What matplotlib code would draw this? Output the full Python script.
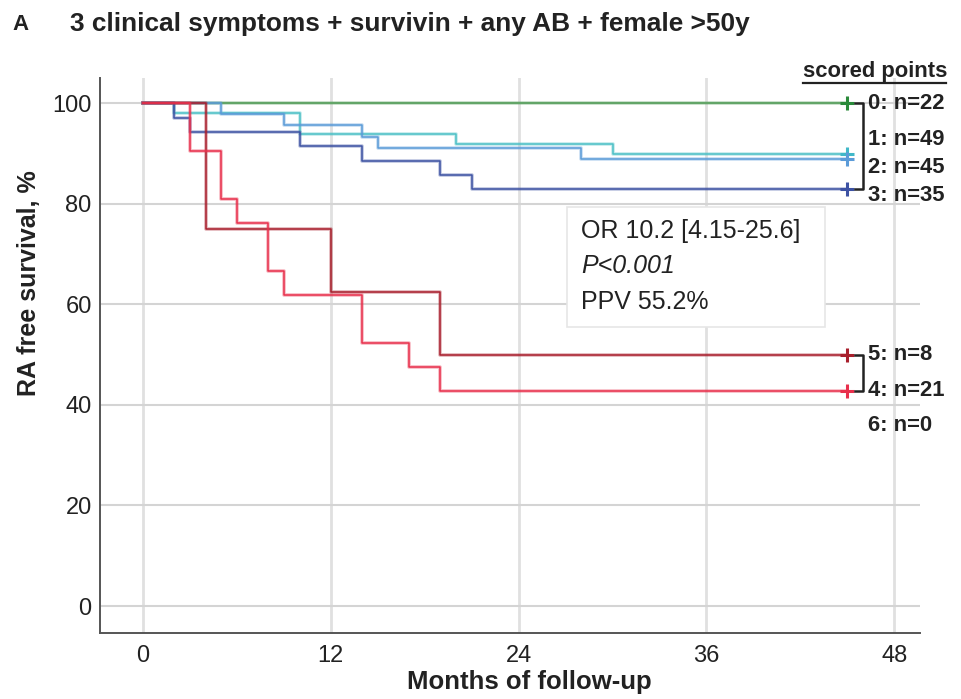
import matplotlib.pyplot as plt
from matplotlib.lines import Line2D
from matplotlib.patches import Rectangle

plt.rcParams['font.family'] = ['Liberation Sans', 'DejaVu Sans']

# Kaplan-Meier steps per score group (event months, survival %)
groups = ['0', '1', '2', '3', '5', '4']
n_pat = [22, 49, 45, 35, 8, 21]
times = [
    [0],
    [0, 2, 10, 20, 30],
    [0, 5, 9, 14, 15, 28],
    [0, 2, 3, 10, 14, 19, 21],
    [0, 4, 12, 19],
    [0, 3, 5, 6, 8, 9, 14, 17, 19],
]
surv = [
    [100],
    [100, 97.96, 93.88, 91.84, 89.80],
    [100, 97.78, 95.56, 93.33, 91.11, 88.89],
    [100, 97.14, 94.29, 91.43, 88.57, 85.71, 82.86],
    [100, 75.0, 62.5, 50.0],
    [100, 90.48, 80.95, 76.19, 66.67, 61.90, 52.38, 47.62, 42.86],
]
end_time = 45
colors = ['#4f9d55', '#4cc0c6', '#5b9bd8', '#3d52a3', '#a81f2c', '#e8304c']
mark_colors = ['#2a8a3a', '#40b8c8', '#5b9bd8', '#3d52a3', '#a81f2c', '#e8304c']

stats_lines = ['OR 10.2 [4.15-25.6]', 'P<0.001', 'PPV 55.2%']

fig = plt.figure(figsize=(9.61, 6.99), dpi=100)
ax = fig.add_axes([100 / 961, 66.3 / 699, 820 / 961, 554.7 / 699])

# grid
for xv in [0, 12, 24, 36, 48]:
    ax.axvline(xv, color='#e0e0e0', lw=2.0, zorder=0)
for yv in [0, 20, 40, 60, 80, 100]:
    ax.axhline(yv, color='#d4d4d4', lw=1.5, zorder=0)

# survival curves
for i in range(len(groups)):
    t = times[i] + [end_time]
    s = surv[i] + [surv[i][-1]]
    ax.step(t, s, where='post', color=colors[i], lw=2.6, alpha=0.35, zorder=2 + i)
    ax.step(t, s, where='post', color=colors[i], lw=1.1, zorder=2 + i)
    ax.plot(end_time, s[-1], marker='+', ms=10, mew=2.2, color=mark_colors[i],
            zorder=10, clip_on=False)

# brackets and group labels
def bracket(y_top, y_bot):
    ax.plot([45.5, 46.0, 46.0, 45.5], [y_top, y_top, y_bot, y_bot],
            color='#222222', lw=1.8, clip_on=False, zorder=10)

top_end = [s[-1] for s in surv[:4]]
bracket(max(top_end), min(top_end))
low_end = [s[-1] for s in surv[4:]]
bracket(max(low_end), min(low_end))

lab_x = 46.35
lab_y_top = [100, 92.8, 87.3, 81.7]
for k in range(4):
    ax.text(lab_x, lab_y_top[k], f'{groups[k]}: n={n_pat[k]}', fontsize=15.8,
            fontweight='bold', va='center', ha='left', color='#222222')
lab_y_low = [50.0, 42.9]
for k in range(2):
    ax.text(lab_x, lab_y_low[k], f'{groups[4 + k]}: n={n_pat[4 + k]}', fontsize=15.8,
            fontweight='bold', va='center', ha='left', color='#222222')
ax.text(lab_x, 35.9, '6: n=0', fontsize=15.8, fontweight='bold', va='center',
        ha='left', color='#222222')

ax.text(42.2, 106.3, 'scored points', fontsize=15.8, fontweight='bold', va='center',
        ha='left', color='#222222')
fig.add_artist(Line2D([803 / 961, 946 / 961], [1 - 83 / 699, 1 - 83 / 699],
                      color='#222222', lw=1.6))

# stats box
ax.add_patch(Rectangle((27.1, 55.4), 16.5, 23.9, facecolor='white',
                       edgecolor='#e6e6e6', lw=1.2, zorder=11))
ax.text(28.0, 74.6, stats_lines[0], fontsize=18, va='center', ha='left',
        color='#222222', zorder=12)
ax.text(28.0, 67.6, stats_lines[1], fontsize=18, va='center', ha='left',
        style='italic', color='#222222', zorder=12)
ax.text(28.0, 60.4, stats_lines[2], fontsize=18, va='center', ha='left',
        color='#222222', zorder=12)

# axes styling
ax.set_xlim(-2.75, 49.65)
ax.set_ylim(-5.3, 105.0)
ax.set_xticks([0, 12, 24, 36, 48])
ax.set_yticks([0, 20, 40, 60, 80, 100])
ax.tick_params(length=0, labelsize=17, colors='#222222')
ax.tick_params(axis='x', pad=9)
ax.tick_params(axis='y', pad=6)
for side in ['top', 'right']:
    ax.spines[side].set_visible(False)
for side in ['left', 'bottom']:
    ax.spines[side].set_color('#555555')
    ax.spines[side].set_linewidth(1.4)

ax.set_xlabel('Months of follow-up', fontsize=18.5, fontweight='bold', color='#222222')
ax.xaxis.set_label_coords(0.523, -0.068)
ax.set_ylabel('RA free survival, %', fontsize=18, fontweight='bold', color='#222222')
ax.yaxis.set_label_coords(-0.072, 0.63)

fig.text(12 / 961, 1 - 24 / 699, 'A', fontsize=16, fontweight='bold', va='center',
         ha='left', color='#222222')
fig.text(70 / 961, 1 - 24 / 699, '3 clinical symptoms + survivin + any AB + female >50y',
         fontsize=18.9, fontweight='bold', va='center', ha='left', color='#222222')

fig.savefig('out.png', dpi=100)
